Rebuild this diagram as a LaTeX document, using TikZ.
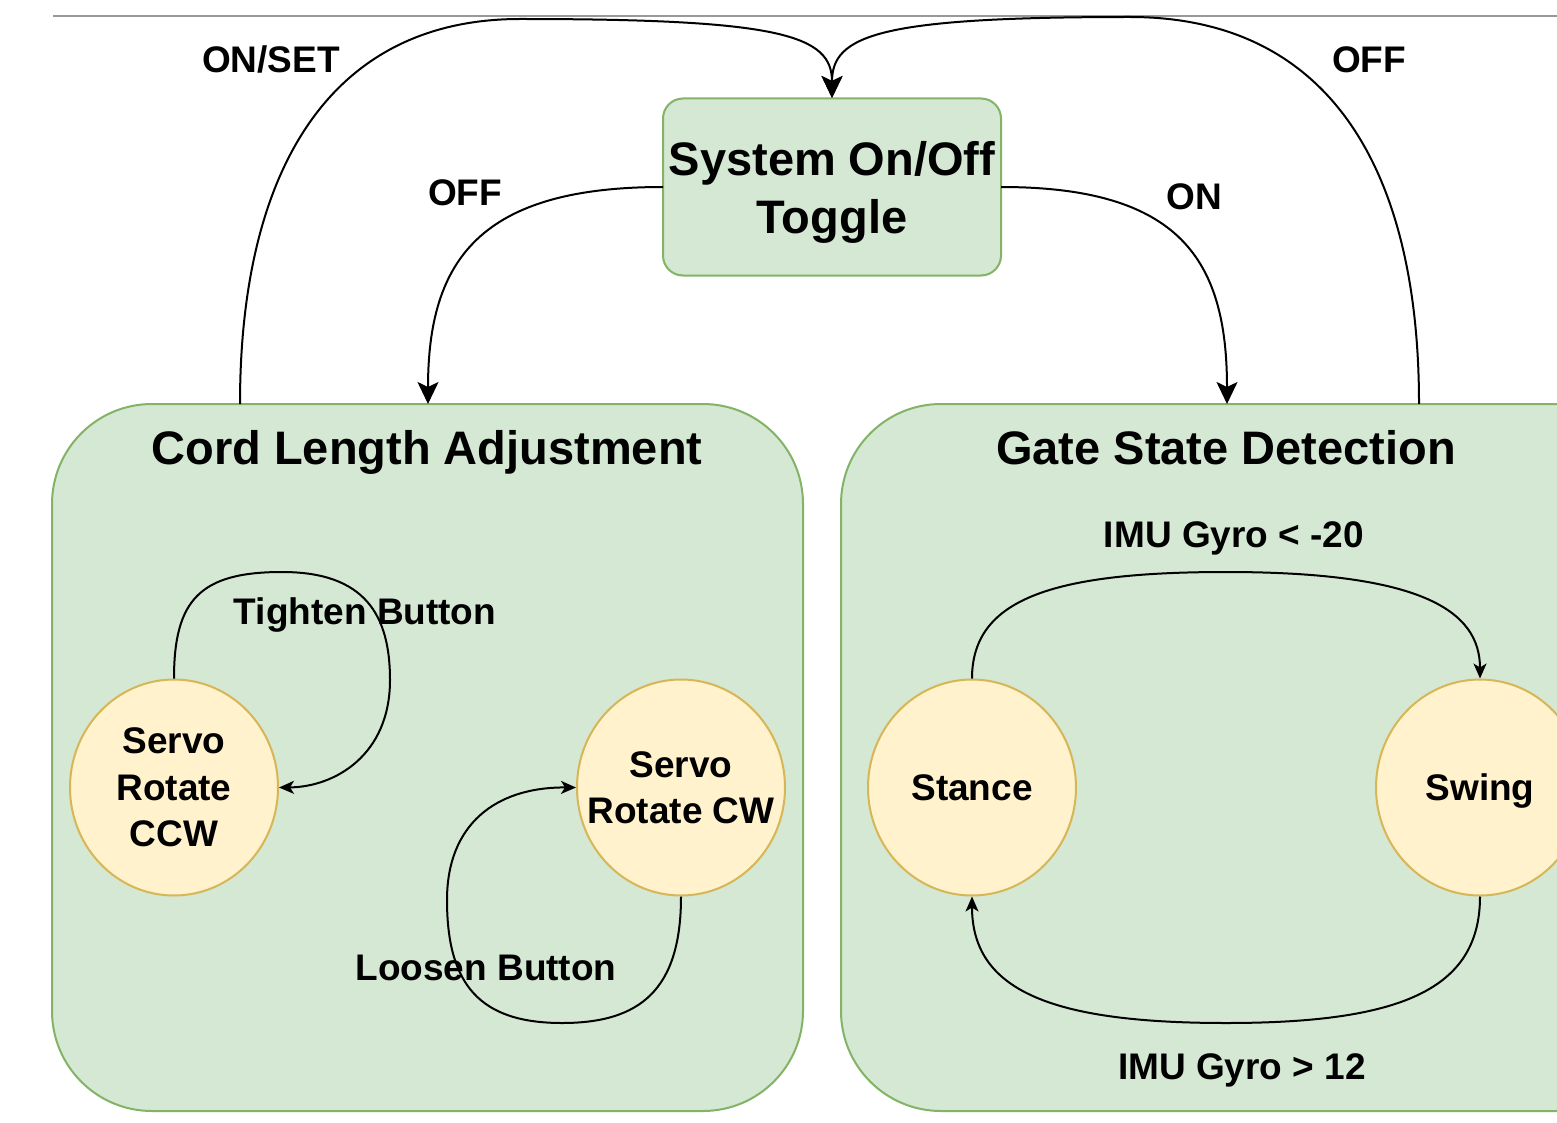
\documentclass[tikz,border=0pt]{standalone}
\usepackage{fontspec}
\setmainfont{Liberation Sans}
\usetikzlibrary{arrows.meta,shapes.geometric}

\definecolor{grpfill}{HTML}{D5E8D4}
\definecolor{grpline}{HTML}{82B366}
\definecolor{stfill}{HTML}{FFF2CC}
\definecolor{stline}{HTML}{D6B656}
\definecolor{rule}{HTML}{999999}

\tikzset{
  group/.style={draw=grpline, fill=grpfill, line width=2pt},
  toggle/.style={draw=grpline, fill=grpfill, line width=2pt, rounded corners=20pt,
    minimum width=338pt, minimum height=177pt, inner sep=0pt, align=center,
    text depth=0pt, font=\bfseries\fontsize{47}{58}\selectfont},
  state/.style={ellipse, draw=stline, fill=stfill, line width=2pt,
    minimum width=208pt, minimum height=216pt, inner sep=0pt},
  statetext/.style={align=center, inner sep=0pt, text depth=0pt,
    font=\bfseries\fontsize{37}{46.5}\selectfont},
  title/.style={font=\bfseries\fontsize{47}{58}\selectfont, inner sep=0pt, anchor=base},
  lbl/.style={font=\bfseries\fontsize{37}{46}\selectfont, inner sep=0pt, anchor=base},
  bigarrow/.style={draw=black, line width=2pt, -{Stealth[length=22pt,width=21pt,inset=5pt]}},
  smallarrow/.style={draw=black, line width=2pt, -{Stealth[length=15pt,width=13pt,inset=4pt]}},
}

\begin{document}
\begin{tikzpicture}[x=1pt, y=-1pt]
\clip (0,0) rectangle (1557,1123);
\fill[white] (0,0) rectangle (1557,1123);

% page rule along the top
\draw[rule, line width=1.5pt] (53,16) -- (1557,16);

% group containers
\draw[group, rounded corners=100pt] (52,404) rectangle (803,1111);
\draw[group, rounded corners=100pt] (841,404) rectangle (1660,1111);
\node[title] (tcord) at (427,464) {Cord Length Adjustment};
\node[title] (tgate) at (1226,464) {Gate State Detection};

% toggle
\node[toggle] (tog) at (832,187) {System On/Off\\Toggle};

% anchor points on the group tops
\coordinate (cordin)  at (428,404);
\coordinate (cordout) at (240,404);
\coordinate (gatein)  at (1227,404);
\coordinate (gateout) at (1419,404);
\coordinate (togtop)  at (832,98);
\coordinate (togl)    at (663,187);
\coordinate (togr)    at (1001,187);

% states
\node[state, label={[statetext]center:Servo\\Rotate\\CCW}] (ccw) at (174,787.5) {};
\node[state, label={[statetext]center:Servo\\Rotate CW}] (cw) at (681,787.5) {};
\node[state, label={[statetext]center:Stance}] (stance) at (972,787.5) {};
\node[state, label={[statetext]center:Swing}] (swing) at (1480,787.5) {};

% toggle transitions
\draw[bigarrow] (togl) .. controls (480,187) and (428,260) .. (cordin);
\node[lbl] (loff) at (465,206) {OFF};
\draw[bigarrow] (togr) .. controls (1180,187) and (1227,260) .. (gatein);
\node[lbl] (lon) at (1194,210) {ON};

\draw[bigarrow] (cordout) .. controls (240,170) and (330,19) .. (520,19)
  .. controls (780,19) and (832,35) .. (togtop);
\node[lbl] (lset) at (271,73) {ON/SET};
\draw[bigarrow] (gateout) .. controls (1419,170) and (1330,17) .. (1130,17)
  .. controls (880,17) and (832,35) .. (togtop);
\node[lbl] (loff2) at (1369,73) {OFF};

% servo self loops
\draw[smallarrow] (ccw.north) .. controls (174,600) and (200,572) .. (282,572)
  .. controls (365,572) and (390,615) .. (390,680)
  .. controls (390,755) and (335,787) .. (ccw.east);
\node[lbl] (ltight) at (365,624) {Tighten Button};

\draw[smallarrow] (cw.south) .. controls (681,990) and (640,1023) .. (562,1023)
  .. controls (480,1023) and (447,985) .. (447,900)
  .. controls (447,825) and (495,787) .. (cw.west);
\node[lbl] (lloose) at (486,980) {Loosen Button};

% gait transitions
\draw[smallarrow] (stance.north) .. controls (972,600) and (1050,572) .. (1226,572)
  .. controls (1420,572) and (1480,610) .. (swing.north);
\node[lbl] (lgyro1) at (1234,547) {IMU Gyro < -20};
\draw[smallarrow] (swing.south) .. controls (1480,990) and (1400,1023) .. (1226,1023)
  .. controls (1050,1023) and (972,990) .. (stance.south);
\node[lbl] (lgyro2) at (1242,1079) {IMU Gyro > 12};
\end{tikzpicture}
\end{document}
